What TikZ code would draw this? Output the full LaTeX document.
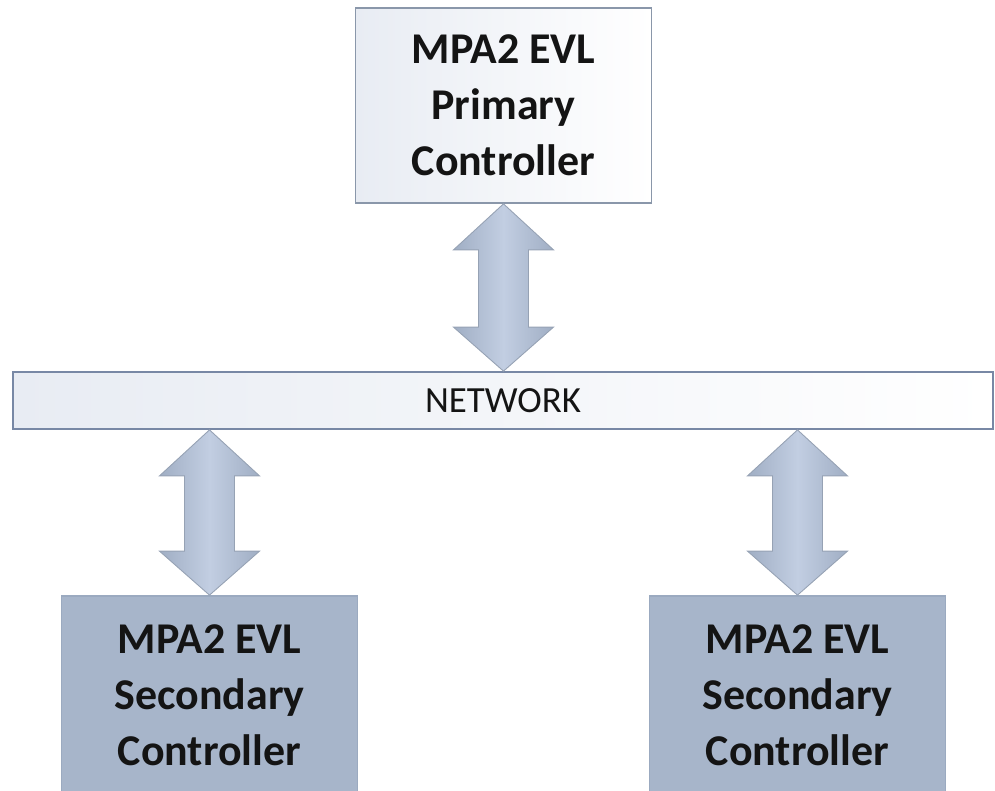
\documentclass[tikz,border=0pt]{standalone}
\usepackage{fontspec}
\setmainfont{Carlito}
\usetikzlibrary{calc,positioning}
\definecolor{boxline}{RGB}{138,151,170}
\definecolor{netline}{RGB}{120,136,165}
\definecolor{paleblue}{RGB}{232,236,243}
\definecolor{secfill}{RGB}{167,181,202}
\definecolor{secline}{RGB}{155,170,192}
\definecolor{arrowdark}{RGB}{160,174,196}
\definecolor{arrowlight}{RGB}{194,206,226}
\definecolor{arrowline}{RGB}{150,162,180}
\definecolor{txt}{RGB}{20,20,20}
\tikzset{
  ctrl_base/.style={
    draw,
    line width=1pt,
    align=center,
    text=txt,
    font=\fontsize{25}{32}\selectfont\bfseries,
    minimum width=5.92cm
  },
  primbox/.style={ctrl_base, draw=boxline, left color=paleblue, right color=white, minimum height=3.9cm},
  secbox/.style={ctrl_base, draw=secline, fill=secfill, minimum height=3.96cm},
  netbar/.style={
    draw=netline,
    line width=1pt,
    left color=paleblue,
    right color=white,
    minimum width=19.6cm,
    minimum height=1.14cm,
    text=txt,
    font=\fontsize{21}{24}\selectfont
  },
  blockarrow/.style={draw=arrowline, line width=0.5pt, left color=arrowdark, right color=arrowdark, middle color=arrowlight}
}
% double block arrow from tip #1 down to tip #2
\newcommand{\dblarrow}[2]{%
  \path[blockarrow] let \p1=(#1), \p2=(#2) in
    (\x1,\y1) -- ++(1cm,-0.92cm) -- ++(-0.5cm,0) -- (\x1+0.5cm,\y2+0.88cm) -- ++(0.5cm,0)
    -- (\x2,\y2) -- ++(-1cm,0.88cm) -- ++(0.5cm,0) -- (\x1-0.5cm,\y1-0.92cm) -- ++(-0.5cm,0) -- cycle;
}

\begin{document}
\begin{tikzpicture}[x=0.02cm, y=-0.02cm]
\useasboundingbox (0,0) rectangle (995,791);
\clip (0,0) rectangle (995,791);
\node[primbox] (prim) at (503.5,105.5) {MPA2 EVL\\Primary\\Controller};
\node[netbar] (net) at (503,400.5) {NETWORK};
\node[secbox] (secl) at (209.5,695) {MPA2 EVL\\Secondary\\Controller};
\node[secbox] (secr) at (797.5,695) {MPA2 EVL\\Secondary\\Controller};

\dblarrow{prim.south}{prim.south |- net.north}
\dblarrow{net.south -| secl.north}{secl.north}
\dblarrow{net.south -| secr.north}{secr.north}

\end{tikzpicture}
\end{document}
